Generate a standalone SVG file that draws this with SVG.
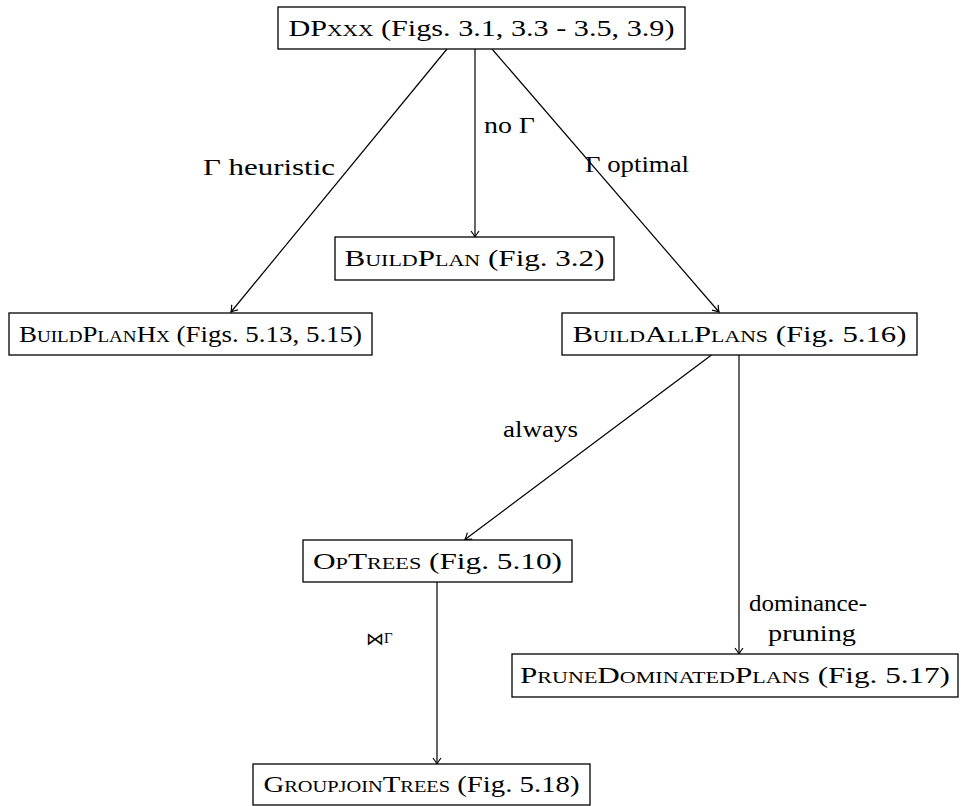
<svg xmlns="http://www.w3.org/2000/svg" width="961" height="806" viewBox="0 0 961 806">
  <style>
    .box { fill: #ffffff; stroke: #000000; stroke-width: 1.3; }
    .edge { fill: none; stroke: #000000; stroke-width: 1.2; marker-end: url(#to); }
    .name { font-family: "Liberation Serif", "DejaVu Serif", serif; font-size: 24px; fill: #000000; text-anchor: middle; }
    .sc { font-variant: small-caps; }
    .lbl { font-family: "Liberation Serif", "DejaVu Serif", serif; font-size: 24px; fill: #000000; }
  </style>
  <defs>
    <marker id="to" markerUnits="userSpaceOnUse" markerWidth="14" markerHeight="14" viewBox="-8 -7 10 14" refX="0" refY="0" orient="auto">
      <path d="M-6,-4 Q-2,-1 0,0 Q-2,1 -6,4" fill="none" stroke="#000000" stroke-width="1.2"/>
    </marker>
  </defs>

  <!-- connectors -->
  <g id="connectors">
    <line class="edge" x1="447" y1="49" x2="231" y2="312"/>
    <line class="edge" x1="475" y1="49" x2="475" y2="237"/>
    <line class="edge" x1="492" y1="49" x2="719" y2="312"/>
    <line class="edge" x1="711.5" y1="355" x2="465" y2="539.5"/>
    <line class="edge" x1="739" y1="355" x2="739" y2="654"/>
    <line class="edge" x1="437" y1="582" x2="437" y2="764"/>
  </g>

  <!-- connector labels -->
  <g id="labels">
    <text class="lbl" x="203" y="175" textLength="132" lengthAdjust="spacingAndGlyphs">Γ heuristic</text>
    <text class="lbl" x="484" y="133" textLength="51" lengthAdjust="spacingAndGlyphs">no Γ</text>
    <text class="lbl" x="585" y="172" textLength="104" lengthAdjust="spacingAndGlyphs">Γ optimal</text>
    <text class="lbl" x="503" y="437" textLength="75" lengthAdjust="spacingAndGlyphs">always</text>
    <text class="lbl" x="749" y="611" textLength="118" lengthAdjust="spacingAndGlyphs">dominance-</text>
    <text class="lbl" x="768" y="641" textLength="88" lengthAdjust="spacingAndGlyphs">pruning</text>
    <!-- groupjoin operator: bowtie with a Gamma -->
    <text x="366" y="645" font-family="'DejaVu Serif', serif" font-size="18px">⋈<tspan font-family="'Liberation Serif', serif" font-size="15px" dy="-2">Γ</tspan></text>
  </g>

  <!-- nodes -->
  <g id="dpxxx">
    <rect class="box" x="278" y="7" width="407" height="42"/>
    <text class="name" x="481.5" y="36" textLength="386" lengthAdjust="spacingAndGlyphs"><tspan class="sc">DPxxx</tspan> (Figs. 3.1, 3.3 - 3.5, 3.9)</text>
  </g>
  <g id="buildplan">
    <rect class="box" x="335" y="237" width="279" height="43"/>
    <text class="name" x="474.5" y="266" textLength="260" lengthAdjust="spacingAndGlyphs"><tspan class="sc">BuildPlan</tspan> (Fig. 3.2)</text>
  </g>
  <g id="buildplanhx">
    <rect class="box" x="9" y="313" width="363" height="42"/>
    <text class="name" x="190.5" y="342" textLength="343" lengthAdjust="spacingAndGlyphs"><tspan class="sc">BuildPlanHx</tspan> (Figs. 5.13, 5.15)</text>
  </g>
  <g id="buildallplans">
    <rect class="box" x="562" y="313" width="355" height="42"/>
    <text class="name" x="739.5" y="342" textLength="334" lengthAdjust="spacingAndGlyphs"><tspan class="sc">BuildAllPlans</tspan> (Fig. 5.16)</text>
  </g>
  <g id="optrees">
    <rect class="box" x="303" y="540" width="269" height="42"/>
    <text class="name" x="437.5" y="569" textLength="249" lengthAdjust="spacingAndGlyphs"><tspan class="sc">OpTrees</tspan> (Fig. 5.10)</text>
  </g>
  <g id="prunedominatedplans">
    <rect class="box" x="512" y="654" width="446" height="43"/>
    <text class="name" x="735" y="683" textLength="430" lengthAdjust="spacingAndGlyphs"><tspan class="sc">PruneDominatedPlans</tspan> (Fig. 5.17)</text>
  </g>
  <g id="groupjointrees">
    <rect class="box" x="253" y="764" width="337" height="41"/>
    <text class="name" x="421.5" y="792" textLength="316" lengthAdjust="spacingAndGlyphs"><tspan class="sc">GroupjoinTrees</tspan> (Fig. 5.18)</text>
  </g>
</svg>
